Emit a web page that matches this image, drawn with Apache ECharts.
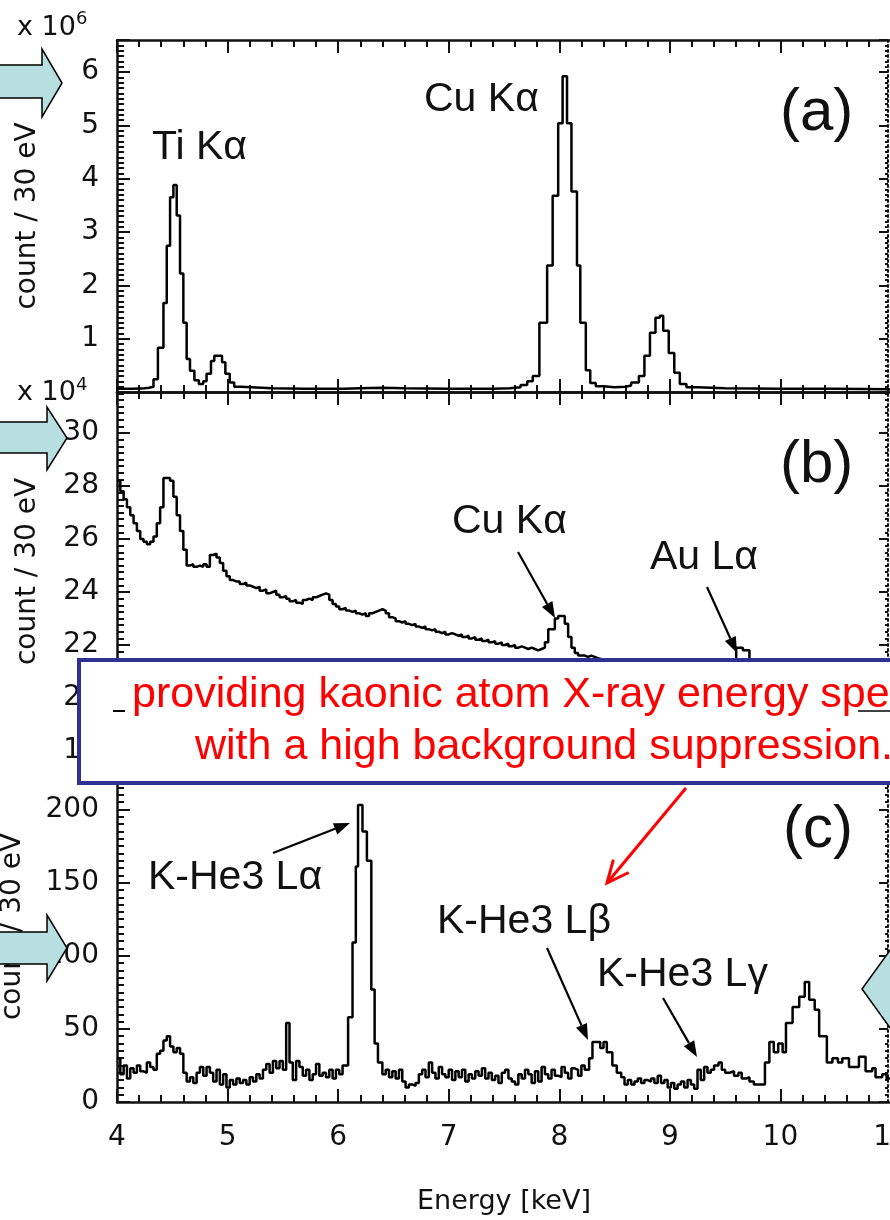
<!DOCTYPE html>
<html><head><meta charset="utf-8">
<script src="https://cdn.jsdelivr.net/npm/echarts@6/dist/echarts.min.js"></script>
<style>html,body{margin:0;padding:0;background:#fff}#c{width:890px;height:1220px}</style>
</head><body><div id="c"></div>
<script>
// ---- data: [bin start energy (keV), counts] ----
// panel (a): counts x 10^6 / 30 eV
const panelA = [
[4.00,0.06],[4.15,0.07],[4.25,0.08],[4.29,0.10],[4.33,0.24],[4.37,0.83],[4.42,1.67],[4.45,2.74],[4.48,3.65],[4.51,3.88],
[4.54,3.31],[4.57,2.22],[4.60,1.30],[4.63,0.62],[4.66,0.40],[4.70,0.22],[4.74,0.15],[4.78,0.20],[4.81,0.34],[4.85,0.58],
[4.88,0.68],[4.95,0.56],[4.98,0.34],[5.02,0.18],[5.06,0.10],[5.12,0.07],[5.40,0.06],[5.70,0.06],[6.05,0.07],[6.20,0.08],
[6.40,0.07],[6.60,0.06],[7.00,0.06],[7.40,0.07],[7.55,0.09],[7.65,0.13],[7.71,0.20],[7.76,0.30],[7.82,1.30],[7.89,2.37],
[7.94,3.68],[7.99,5.04],[8.03,5.92],[8.07,5.04],[8.11,3.76],[8.16,2.37],[8.19,1.30],[8.24,0.41],[8.28,0.17],[8.33,0.11],
[8.40,0.09],[8.50,0.10],[8.60,0.12],[8.65,0.18],[8.72,0.30],[8.77,0.68],[8.82,1.11],[8.87,1.39],[8.91,1.43],[8.94,1.15],
[8.99,0.73],[9.04,0.36],[9.09,0.15],[9.15,0.09],[9.25,0.07],[9.50,0.06],[10.00,0.06],[10.50,0.05],[11.00,0.05]
];
// panel (b): counts x 10^4 / 30 eV
const panelB = [
[4.00,28.2],[4.03,27.8],[4.06,27.5],[4.09,27.2],[4.12,26.9],[4.15,26.6],[4.18,26.3],[4.21,26.0],[4.24,25.9],[4.27,25.8],
[4.30,25.9],[4.33,26.1],[4.36,26.6],[4.39,27.2],[4.42,28.3],[4.45,28.3],[4.48,28.2],[4.51,27.6],[4.54,26.9],[4.57,26.3],
[4.60,25.6],[4.63,25.0],[4.66,25.05],[4.69,24.95],[4.72,25.0],[4.75,24.95],[4.78,25.05],[4.81,24.95],[4.84,25.4],[4.87,25.45],
[4.90,25.3],[4.93,25.1],[4.96,24.8],[4.99,24.6],[5.02,24.45],[5.05,24.4],[5.08,24.4],[5.11,24.3],[5.14,24.35],[5.17,24.25],
[5.20,24.2],[5.23,24.15],[5.26,24.2],[5.29,24.05],[5.32,24.1],[5.35,23.95],[5.38,24.0],[5.41,24.05],[5.44,23.9],[5.47,23.8],
[5.50,23.85],[5.53,23.75],[5.56,23.65],[5.59,23.7],[5.62,23.6],[5.65,23.55],[5.68,23.7],[5.71,23.75],[5.74,23.7],[5.77,23.8],
[5.80,23.85],[5.83,23.9],[5.86,23.95],[5.89,23.9],[5.92,23.7],[5.95,23.55],[5.98,23.45],[6.01,23.35],[6.04,23.4],[6.07,23.3],
[6.10,23.25],[6.13,23.3],[6.16,23.2],[6.19,23.15],[6.22,23.2],[6.25,23.1],[6.28,23.2],[6.31,23.25],[6.34,23.3],[6.37,23.35],
[6.40,23.3],[6.43,23.2],[6.46,23.05],[6.49,23.0],[6.52,22.9],[6.55,22.85],[6.58,22.9],[6.61,22.8],[6.64,22.75],[6.67,22.8],
[6.70,22.7],[6.73,22.65],[6.76,22.7],[6.79,22.6],[6.82,22.55],[6.85,22.6],[6.88,22.5],[6.91,22.45],[6.94,22.5],[6.97,22.4],
[7.00,22.45],[7.03,22.4],[7.06,22.35],[7.09,22.4],[7.12,22.3],[7.15,22.35],[7.18,22.25],[7.21,22.3],[7.24,22.2],[7.27,22.25],
[7.30,22.15],[7.33,22.2],[7.36,22.1],[7.39,22.15],[7.42,22.05],[7.45,22.1],[7.48,22.0],[7.51,22.05],[7.54,21.95],[7.57,22.0],
[7.60,21.9],[7.63,21.95],[7.66,21.9],[7.69,21.85],[7.72,21.9],[7.75,21.85],[7.78,21.8],[7.81,21.85],[7.84,21.9],[7.87,22.1],
[7.90,22.6],[7.96,23.0],[7.99,23.1],[8.05,22.8],[8.08,22.3],[8.11,21.9],[8.14,21.7],[8.17,21.6],[8.20,21.6],[8.23,21.55],
[8.26,21.6],[8.29,21.55],[8.32,21.5],[8.35,21.45],[8.40,21.4],[8.50,21.35],[8.60,21.3],[8.70,21.3],[8.80,21.25],[8.90,21.2],
[9.00,21.2],[9.10,21.15],[9.20,21.1],[9.30,21.1],[9.40,21.05],[9.50,21.1],[9.57,21.4],[9.60,21.9],[9.66,21.8],[9.72,21.4],
[9.78,21.0],[9.90,20.95],[10.00,20.9],[10.20,20.8],[10.40,20.7],[10.60,20.6],[10.80,20.5],[11.00,20.5]
];
// panel (c): counts / 30 eV
const panelC = [
[4.00,30],[4.03,19],[4.06,25],[4.09,16],[4.12,23],[4.15,20],[4.18,25],[4.21,21],[4.24,20],[4.27,27],
[4.30,24],[4.33,22],[4.36,33],[4.39,35],[4.42,42],[4.45,45],[4.48,38],[4.51,34],[4.54,37],[4.57,33],
[4.60,20],[4.63,14],[4.66,17],[4.69,13],[4.72,20],[4.75,24],[4.78,18],[4.81,24],[4.84,20],[4.87,14],
[4.90,22],[4.93,12],[4.96,19],[4.99,10],[5.02,15],[5.05,12],[5.08,16],[5.11,13],[5.14,15],[5.17,12],
[5.20,17],[5.23,14],[5.26,19],[5.29,16],[5.32,22],[5.35,26],[5.38,20],[5.41,28],[5.44,23],[5.47,28],
[5.50,22],[5.53,54],[5.56,27],[5.59,15],[5.62,28],[5.65,24],[5.68,18],[5.71,22],[5.74,15],[5.77,19],
[5.80,26],[5.83,18],[5.86,20],[5.89,17],[5.92,22],[5.95,16],[5.98,22],[6.01,19],[6.04,25],[6.09,58],
[6.13,109],[6.16,161],[6.18,203],[6.22,185],[6.26,165],[6.30,77],[6.33,40],[6.36,27],[6.40,19],[6.43,22],
[6.46,17],[6.49,21],[6.52,16],[6.55,22],[6.58,14],[6.61,10],[6.64,12],[6.67,11],[6.70,13],[6.73,19],
[6.76,22],[6.79,17],[6.82,27],[6.85,20],[6.88,16],[6.91,24],[6.94,19],[6.97,17],[7.00,22],[7.03,15],
[7.06,21],[7.09,17],[7.12,22],[7.15,14],[7.18,19],[7.21,16],[7.24,21],[7.27,18],[7.30,23],[7.33,16],
[7.36,20],[7.39,15],[7.42,18],[7.45,13],[7.48,20],[7.51,22],[7.54,16],[7.57,14],[7.60,12],[7.63,19],
[7.66,16],[7.69,22],[7.72,19],[7.75,13],[7.78,21],[7.81,14],[7.84,24],[7.87,19],[7.90,16],[7.93,22],
[7.96,18],[7.99,17],[8.02,24],[8.05,20],[8.08,16],[8.11,23],[8.14,22],[8.17,18],[8.20,25],[8.23,22],
[8.27,30],[8.30,41],[8.37,37],[8.40,41],[8.43,34],[8.48,25],[8.52,20],[8.56,17],[8.59,12],[8.62,15],
[8.65,12],[8.68,14],[8.71,16],[8.74,13],[8.77,15],[8.80,14],[8.83,16],[8.86,13],[8.89,18],[8.92,13],
[8.95,15],[8.98,10],[9.01,13],[9.04,9],[9.07,12],[9.10,14],[9.13,10],[9.16,15],[9.19,12],[9.22,9],
[9.25,22],[9.28,15],[9.31,24],[9.34,20],[9.37,22],[9.40,25],[9.44,27],[9.47,22],[9.50,20],[9.54,21],
[9.58,18],[9.62,20],[9.65,16],[9.69,17],[9.72,14],[9.76,12],[9.80,12],[9.84,12],[9.86,27],[9.90,41],
[9.94,34],[9.98,40],[10.02,34],[10.05,54],[10.11,65],[10.17,72],[10.22,82],[10.26,70],[10.31,63],[10.35,45],
[10.42,27],[10.47,30],[10.52,27],[10.56,30],[10.62,24],[10.71,31],[10.77,21],[10.83,23],[10.86,17],[10.92,19],
[10.96,16],[11.00,16]
];
const energyRange = [4, 11];
const yRangeA = [0, 6.6], yRangeB = [18, 31.55], yRangeC = [0, 240];
const yTitle = 'count / 30 eV';
const xTitle = 'Energy [keV]';

// ---- chart ----
const chart = echarts.init(document.getElementById('c'), null, {renderer: 'canvas'});
const INK = '#111';
const AXF = 'DejaVu Sans';
const TF = '"Liberation Sans", Arial, sans-serif';
const TICK_FS = 28;
const grids = [
  {left: 117, top: 40, width: 774, height: 352},
  {left: 117, top: 392, width: 774, height: 359},
  {left: 117, top: 751, width: 774, height: 351}
];
function xAx(gi, pos, labels, extra) {
  return Object.assign({
    type: 'value', gridIndex: gi, position: pos, min: energyRange[0], max: energyRange[1], interval: 1,
    axisLine: {show: true, onZero: false, lineStyle: {color: INK, width: 2.5}},
    axisTick: {show: true, inside: true, length: 13, lineStyle: {color: INK, width: 2}},
    minorTick: {show: true, splitNumber: 5, length: 7, lineStyle: {color: INK, width: 2}},
    splitLine: {show: false}, minorSplitLine: {show: false},
    axisLabel: {show: labels, fontFamily: AXF, fontSize: TICK_FS, color: INK, margin: 22}
  }, extra || {});
}
function yAx(gi, range, interval, minorSplit, opts) {
  const left = Object.assign({
    type: 'value', gridIndex: gi, position: 'left', min: range[0], max: range[1], interval: interval,
    axisLine: {show: true, onZero: false, lineStyle: {color: INK, width: 2.5}},
    axisTick: {show: true, inside: true, length: 13, lineStyle: {color: INK, width: 2}},
    minorTick: {show: true, splitNumber: minorSplit, length: 7, lineStyle: {color: INK, width: 2}},
    splitLine: {show: false}, minorSplitLine: {show: false},
    axisLabel: {show: true, fontFamily: AXF, fontSize: TICK_FS, color: INK, margin: 18, showMaxLabel: false},
    name: yTitle, nameLocation: 'middle', nameGap: 75,
    nameTextStyle: {fontFamily: AXF, fontSize: 28, color: INK}
  }, opts || {});
  const right = {
    type: 'value', gridIndex: gi, position: 'right', offset: -3, min: range[0], max: range[1], interval: interval,
    axisLine: {show: true, onZero: false, lineStyle: {color: INK, width: 2, type: [2, 3]}},
    axisTick: {show: true, inside: true, length: 9, lineStyle: {color: INK, width: 2}},
    minorTick: {show: true, splitNumber: minorSplit, length: 3, lineStyle: {color: INK, width: 2}},
    splitLine: {show: false}, minorSplitLine: {show: false}, axisLabel: {show: false}
  };
  return [left, right];
}
const yA = yAx(0, yRangeA, 1, 10, {axisLabel: {show: true, fontFamily: AXF, fontSize: TICK_FS, color: INK, margin: 18, showMaxLabel: false, formatter: v => v === 0 ? '' : String(v)}});
const yB = yAx(1, yRangeB, 2, 8);
const yC = yAx(2, yRangeC, 50, 10, {nameGap: 90});

function stepSeries(data, idx) {
  return {type: 'line', xAxisIndex: idx, yAxisIndex: idx, data: data, step: 'end', showSymbol: false, symbol: 'none',
    lineStyle: {color: '#000', width: 2.5}, animation: false, z: 3};
}

// ---- annotations ----
function text(t, x, y, size, extra) {
  return {type: 'text', z: 100, style: Object.assign({text: t, x: x, y: y, fontSize: size, fontFamily: TF, fill: INK,
    align: 'left', verticalAlign: 'middle'}, extra || {})};
}
function arrow(x1, y1, x2, y2, color, w, hl, hw, filled) {
  const a = Math.atan2(y2 - y1, x2 - x1);
  const bx = x2 - hl * Math.cos(a), by = y2 - hl * Math.sin(a);
  const px = -Math.sin(a) * hw, py = Math.cos(a) * hw;
  const els = [{type: 'line', z: 100, shape: {x1: x1, y1: y1, x2: filled ? bx : x2, y2: filled ? by : y2},
    style: {stroke: color, lineWidth: w}}];
  if (filled) els.push({type: 'polygon', z: 100, shape: {points: [[x2, y2], [bx + px, by + py], [bx - px, by - py]]}, style: {fill: color}});
  else els.push({type: 'polyline', z: 100, shape: {points: [[bx + px, by + py], [x2, y2], [bx - px, by - py]]}, style: {stroke: color, lineWidth: w, fill: null}});
  return els;
}
const BLUE = '#b7dfe0';
function block(points) {
  return {type: 'polygon', z: 110, shape: {points: points}, style: {fill: BLUE, stroke: '#000', lineWidth: 1.5}};
}
const graphics = [].concat(
  [
    text('x 10', 17, 28, 27, {fontFamily: AXF}), text('6', 76, 19, 18, {fontFamily: AXF}),
    text('x 10', 17, 393, 27, {fontFamily: AXF}), text('4', 76, 385, 18, {fontFamily: AXF}),
    text('Ti K\u03b1', 152, 148, 41), text('Cu K\u03b1', 424, 100, 41), text('(a)', 780, 113, 60),
    text('(b)', 780, 465, 60), text('Cu K\u03b1', 452, 522, 41), text('Au L\u03b1', 650, 558, 41),
    text('(c)', 783, 830, 60), text('K-He3 L\u03b1', 148, 878, 41), text('K-He3 L\u03b2', 437, 922, 41),
    text('K-He3 L\u03b3', 597, 975, 41)
  ],
  arrow(518, 552, 555, 618, '#000', 2.2, 16, 6, true),
  arrow(707, 587, 737, 653, '#000', 2.2, 16, 6, true),
  arrow(273, 853, 350, 823, '#000', 2.2, 16, 6, true),
  arrow(547, 948, 588, 1040, '#000', 2.2, 16, 6, true),
  arrow(663, 998, 697, 1057, '#000', 2.2, 16, 6, true),
  [
    {type: 'rect', z: 105, shape: {x: 79, y: 660, width: 840, height: 123}, style: {fill: '#fff', stroke: '#2e3192', lineWidth: 4}},
    {type: 'line', z: 106, shape: {x1: 113, y1: 711, x2: 125, y2: 711}, style: {stroke: '#000', lineWidth: 2}},
    {type: 'line', z: 106, shape: {x1: 858, y1: 711, x2: 892, y2: 711}, style: {stroke: '#000', lineWidth: 1.5}},
    Object.assign(text('providing kaonic atom X-ray energy spectra', 132, 695, 43, {fill: '#ff0000'}), {z: 107}),
    Object.assign(text('with a high background suppression.', 195, 747, 43, {fill: '#ff0000'}), {z: 107})
  ],
  arrow(686, 788, 607, 883, '#ff0000', 3, 22, 10, false),
  [
    block([[-5, 65], [42, 65], [42, 49], [62, 83], [42, 117], [42, 98], [-5, 98]]),
    block([[-5, 422], [47, 422], [47, 407], [67, 438], [47, 470], [47, 453], [-5, 453]]),
    block([[-5, 932], [47, 932], [47, 915], [67, 948], [47, 981], [47, 964], [-5, 964]]),
    block([[862, 989], [893, 946], [893, 970], [950, 970], [950, 1008], [893, 1008], [893, 1032]])
  ]
);

chart.setOption({
  backgroundColor: '#fff',
  animation: false,
  grid: grids.map(g => Object.assign({containLabel: false, outerBoundsMode: 'none'}, g)),
  xAxis: [
    xAx(0, 'bottom', false), xAx(0, 'top', false),
    xAx(1, 'bottom', false), xAx(1, 'top', false),
    xAx(2, 'bottom', true, {name: xTitle, nameLocation: 'middle', nameGap: 86,
      nameTextStyle: {fontFamily: AXF, fontSize: 27, color: INK}}),
    xAx(2, 'top', false)
  ],
  yAxis: [yA[0], yA[1], yB[0], yB[1], yC[0], yC[1]],
  series: [stepSeries(panelA, 0), stepSeries(panelB, 2), stepSeries(panelC, 4)],
  graphic: {elements: graphics}
});
</script></body></html>
